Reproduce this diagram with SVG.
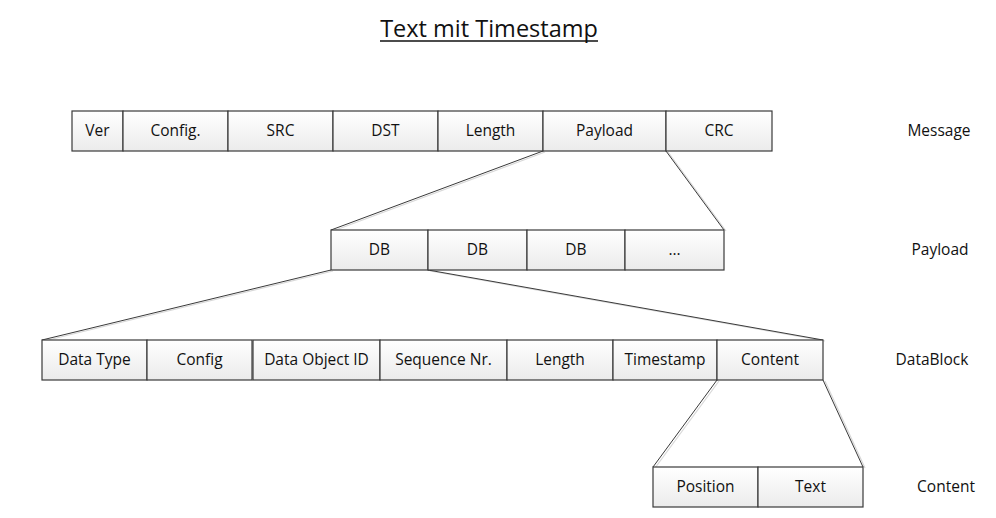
<svg xmlns="http://www.w3.org/2000/svg" width="996" height="518" viewBox="0 0 996 518">
<defs>
<linearGradient id="g" x1="0" y1="0" x2="0" y2="1">
<stop offset="0" stop-color="#ffffff"/>
<stop offset="1" stop-color="#ebebeb"/>
</linearGradient>
<style>
.c{fill:url(#g);stroke:#3a3a3a;stroke-width:1.2}
.t{font-family:"Open Sans","Noto Sans",sans-serif;font-size:15.5px;fill:#111;text-anchor:middle;dominant-baseline:central}
.l{font-family:"Open Sans","Noto Sans",sans-serif;font-size:15.5px;fill:#111;text-anchor:middle;dominant-baseline:central}
.k{stroke:#3a3a3a;stroke-width:1;fill:none}
.ks{stroke:#d8d8d8;stroke-width:1.2;fill:none}
</style>
</defs>
<rect width="996" height="518" fill="#fff"/>
<g id="title">
<text x="489" y="28" style="font-family:'Open Sans','Noto Sans',sans-serif;font-size:23.5px;fill:#111;text-anchor:middle;dominant-baseline:central">Text mit Timestamp</text>
<line x1="380" y1="41" x2="598" y2="41" stroke="#111" stroke-width="1.3"/>
</g>
<g id="connectors">
<line class="ks" x1="545" y1="152" x2="333" y2="231"/>
<line class="ks" x1="668" y1="152" x2="726" y2="231"/>
<line class="ks" x1="333" y1="271" x2="44" y2="341"/>
<line class="ks" x1="430" y1="271" x2="825" y2="341"/>
<line class="ks" x1="719" y1="381" x2="655" y2="468"/>
<line class="ks" x1="825" y1="381" x2="865" y2="468"/>
<line class="k" x1="543" y1="151" x2="331" y2="230"/>
<line class="k" x1="666" y1="151" x2="724" y2="230"/>
<line class="k" x1="331" y1="270" x2="42" y2="340"/>
<line class="k" x1="428" y1="270" x2="823" y2="340"/>
<line class="k" x1="717" y1="380" x2="653" y2="467"/>
<line class="k" x1="823" y1="380" x2="863" y2="467"/>
</g>
<g id="message">
<rect class="c" x="72" y="111" width="51" height="40"/><text class="t" x="97.5" y="130">Ver</text>
<rect class="c" x="123" y="111" width="105" height="40"/><text class="t" x="175.5" y="130">Config.</text>
<rect class="c" x="228" y="111" width="105" height="40"/><text class="t" x="280.5" y="130">SRC</text>
<rect class="c" x="333" y="111" width="105" height="40"/><text class="t" x="385.5" y="130">DST</text>
<rect class="c" x="438" y="111" width="105" height="40"/><text class="t" x="490.5" y="130">Length</text>
<rect class="c" x="543" y="111" width="123" height="40"/><text class="t" x="604.5" y="130">Payload</text>
<rect class="c" x="666" y="111" width="106" height="40"/><text class="t" x="719" y="130">CRC</text>
</g>
<g id="payload">
<rect class="c" x="331" y="230" width="97" height="40"/><text class="t" x="379.5" y="249">DB</text>
<rect class="c" x="428" y="230" width="99" height="40"/><text class="t" x="477.5" y="249">DB</text>
<rect class="c" x="527" y="230" width="98" height="40"/><text class="t" x="576" y="249">DB</text>
<rect class="c" x="625" y="230" width="99" height="40"/><text class="t" x="674.5" y="249">...</text>
</g>
<g id="datablock">
<rect class="c" x="42" y="340" width="105" height="40"/><text class="t" x="94.5" y="359">Data Type</text>
<rect class="c" x="147" y="340" width="105" height="40"/><text class="t" x="199.5" y="359">Config</text>
<rect class="c" x="253" y="340" width="127" height="40"/><text class="t" x="316.5" y="359">Data Object ID</text>
<rect class="c" x="380" y="340" width="127" height="40"/><text class="t" x="443.5" y="359">Sequence Nr.</text>
<rect class="c" x="507" y="340" width="106" height="40"/><text class="t" x="560" y="359">Length</text>
<rect class="c" x="613" y="340" width="104" height="40"/><text class="t" x="665" y="359">Timestamp</text>
<rect class="c" x="717" y="340" width="106" height="40"/><text class="t" x="770" y="359">Content</text>
</g>
<g id="content">
<rect class="c" x="653" y="467" width="105" height="40"/><text class="t" x="705.5" y="486">Position</text>
<rect class="c" x="758" y="467" width="105" height="40"/><text class="t" x="810.5" y="486">Text</text>
</g>
<g id="labels">
<text class="l" x="939" y="130">Message</text>
<text class="l" x="940" y="249">Payload</text>
<text class="l" x="932" y="359">DataBlock</text>
<text class="l" x="946" y="486">Content</text>
</g>
</svg>
